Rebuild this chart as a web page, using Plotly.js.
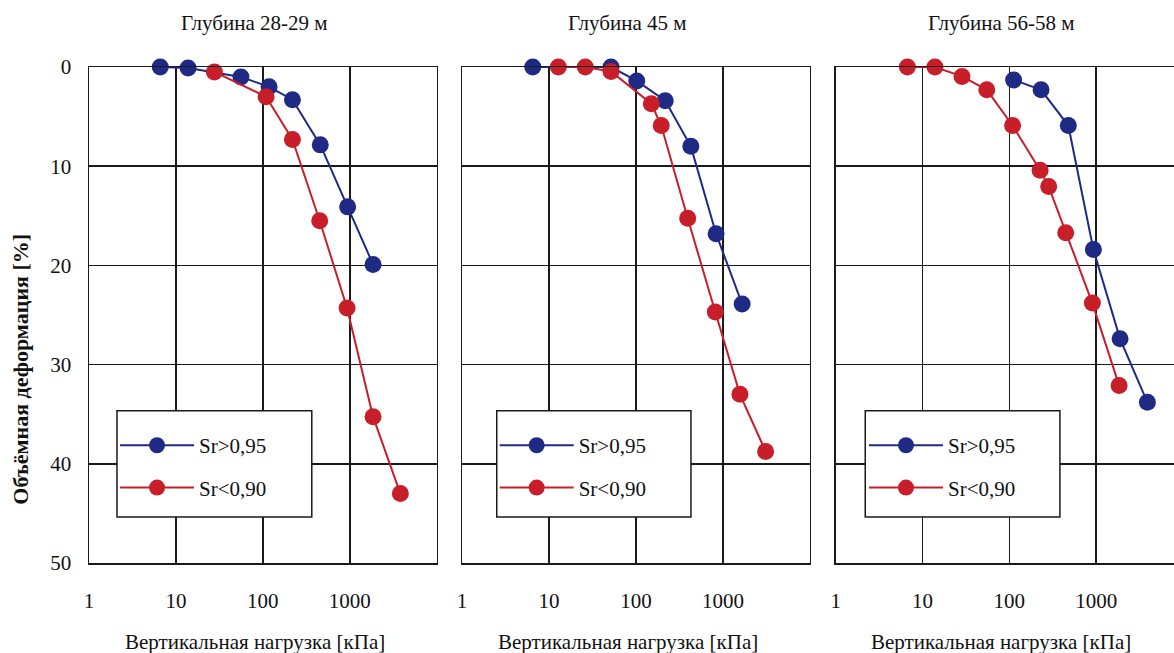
<!DOCTYPE html>
<html>
<head>
<meta charset="utf-8">
<script src="https://cdn.plot.ly/plotly-3.0.1.min.js"></script>
<style>
html,body{margin:0;padding:0;overflow:hidden;background:#fff;}
#chart{width:1184px;height:653px;}
</style>
</head>
<body>
<div id="chart"></div>
<script>
// ---- data ----
const panelTitles = ["Глубина 28-29 м", "Глубина 45 м", "Глубина 56-58 м"];
const seriesNames = ["Sr>0,95", "Sr<0,90"];
const xTickVals = [1, 10, 100, 1000];
const xTickText = ["1", "10", "100", "1000"];
const yTickVals = [0, 10, 20, 30, 40, 50];

// Panel 1: depth 28-29 m
const p1BlueLoad = [6.6, 13.8, 56, 118, 219, 458, 946, 1853];
const p1BlueStrain = [0, 0.1, 1.0, 2.0, 3.3, 7.85, 14.1, 19.9];
const p1RedLoad = [27.7, 109, 219, 451, 931, 1853, 3820];
const p1RedStrain = [0.5, 3.0, 7.3, 15.5, 24.3, 35.25, 43.0];

// Panel 2: depth 45 m
const p2BlueLoad = [6.5, 51.6, 102, 217, 427, 833, 1660];
const p2BlueStrain = [0, 0, 1.4, 3.4, 8.0, 16.8, 23.9];
const p2RedLoad = [12.8, 26.1, 51.6, 150, 195, 393, 816, 1567, 3093];
const p2RedStrain = [0, 0, 0.45, 3.7, 5.9, 15.25, 24.7, 33.0, 38.75];

// Panel 3: depth 56-58 m
const p3BlueLoad = [112, 232, 478, 929, 1884, 3890];
const p3BlueStrain = [1.3, 2.3, 5.9, 18.4, 27.4, 33.8];
const p3RedLoad = [6.7, 13.9, 28.5, 55, 109, 226, 284, 446, 904, 1837];
const p3RedStrain = [0, 0, 0.95, 2.3, 5.9, 10.4, 12.05, 16.7, 23.8, 32.1];

// ---- styles ----
const BLUE = "#1f2a84";
const RED = "#c81e2a";
const GRID = "#1a1a1a";
const FONT = "'Liberation Serif', 'Times New Roman', 'DejaVu Serif', serif";
const FS = 21;

const panels = [
  {blue: [p1BlueLoad, p1BlueStrain], red: [p1RedLoad, p1RedStrain]},
  {blue: [p2BlueLoad, p2BlueStrain], red: [p2RedLoad, p2RedStrain]},
  {blue: [p3BlueLoad, p3BlueStrain], red: [p3RedLoad, p3RedStrain]}
];
const domains = [[0, 0.3178], [0.3410, 0.6590], [0.6825, 1]];
const legendBoxX = [[0.0805, 0.6408], [0.0997, 0.658], [0.0852, 0.6456]];
const legendX = [0.0238, 0.3708, 0.7084];

const traces = [];
panels.forEach((p, i) => {
  const sfx = i === 0 ? "" : String(i + 1);
  const lg = "legend" + sfx;
  [["blue", BLUE, 0], ["red", RED, 1]].forEach(([k, c, j]) => {
    traces.push({
      type: "scatter",
      mode: "lines+markers",
      x: p[k][0],
      y: p[k][1],
      name: seriesNames[j],
      xaxis: "x" + sfx,
      yaxis: "y" + sfx,
      legend: lg,
      legendgroup: lg + k,
      cliponaxis: false,
      line: {color: c, width: 2},
      marker: {color: c, size: 17}
    });
  });
});

const layout = {
  width: 1184,
  height: 653,
  margin: {l: 89, r: 1, t: 67, b: 90},
  paper_bgcolor: "#fff",
  plot_bgcolor: "#fff",
  font: {family: FONT, size: FS, color: "#111"},
  showlegend: true,
  shapes: [],
  annotations: []
};

panels.forEach((p, i) => {
  const sfx = i === 0 ? "" : String(i + 1);
  layout["xaxis" + sfx] = {
    type: "log",
    range: [0, 4],
    domain: domains[i],
    anchor: "y" + sfx,
    tickvals: xTickVals,
    ticktext: xTickText,
    ticks: "",
    ticklabelstandoff: 18,
    showgrid: true,
    gridcolor: GRID,
    gridwidth: 1.5,
    showline: true,
    mirror: true,
    linecolor: GRID,
    linewidth: 1.5,
    zeroline: false,
    tickfont: {family: FONT, size: FS, color: "#111"}
  };
  layout["yaxis" + sfx] = {
    range: [50, 0],
    domain: [0, 1],
    anchor: "x" + sfx,
    tickvals: yTickVals,
    ticks: "",
    showticklabels: i === 0,
    ticklabelstandoff: 12,
    showgrid: true,
    gridcolor: GRID,
    gridwidth: 1.5,
    showline: true,
    mirror: true,
    linecolor: GRID,
    linewidth: 1.5,
    zeroline: false,
    tickfont: {family: FONT, size: FS, color: "#111"}
  };
  layout["legend" + sfx] = {
    x: legendX[i],
    xanchor: "left",
    y: 0.278,
    yanchor: "top",
    bgcolor: "rgba(0,0,0,0)",
    borderwidth: 0,
    itemwidth: 74,
    tracegroupgap: 12,
    traceorder: "grouped",
    font: {family: FONT, size: FS, color: "#111"}
  };
  layout.shapes.push({
    type: "rect",
    xref: "x" + sfx + " domain",
    yref: "y" + sfx + " domain",
    x0: legendBoxX[i][0], x1: legendBoxX[i][1],
    y0: 0.0929, y1: 0.3068,
    line: {color: GRID, width: 1.5},
    fillcolor: "#fff",
    layer: "above"
  });
  layout.annotations.push({
    text: panelTitles[i],
    xref: "x" + sfx + " domain",
    yref: "paper",
    x: 0.477, y: 1.089,
    xanchor: "center", yanchor: "middle",
    showarrow: false,
    font: {family: FONT, size: FS, color: "#111"}
  });
  layout.annotations.push({
    text: "Вертикальная нагрузка [кПа]",
    xref: "x" + sfx + " domain",
    yref: "paper",
    x: 0.477, y: -0.159,
    xanchor: "center", yanchor: "middle",
    showarrow: false,
    font: {family: FONT, size: FS, color: "#111"}
  });
});

layout.annotations.push({
  text: "<b>Объёмная деформация [%]</b>",
  xref: "paper", yref: "paper",
  x: -0.063, y: 0.39,
  xanchor: "center", yanchor: "middle",
  textangle: -90,
  showarrow: false,
  font: {family: FONT, size: 22, color: "#111"}
});

Plotly.newPlot("chart", traces, layout, {displayModeBar: false, staticPlot: true});
</script>
</body>
</html>
